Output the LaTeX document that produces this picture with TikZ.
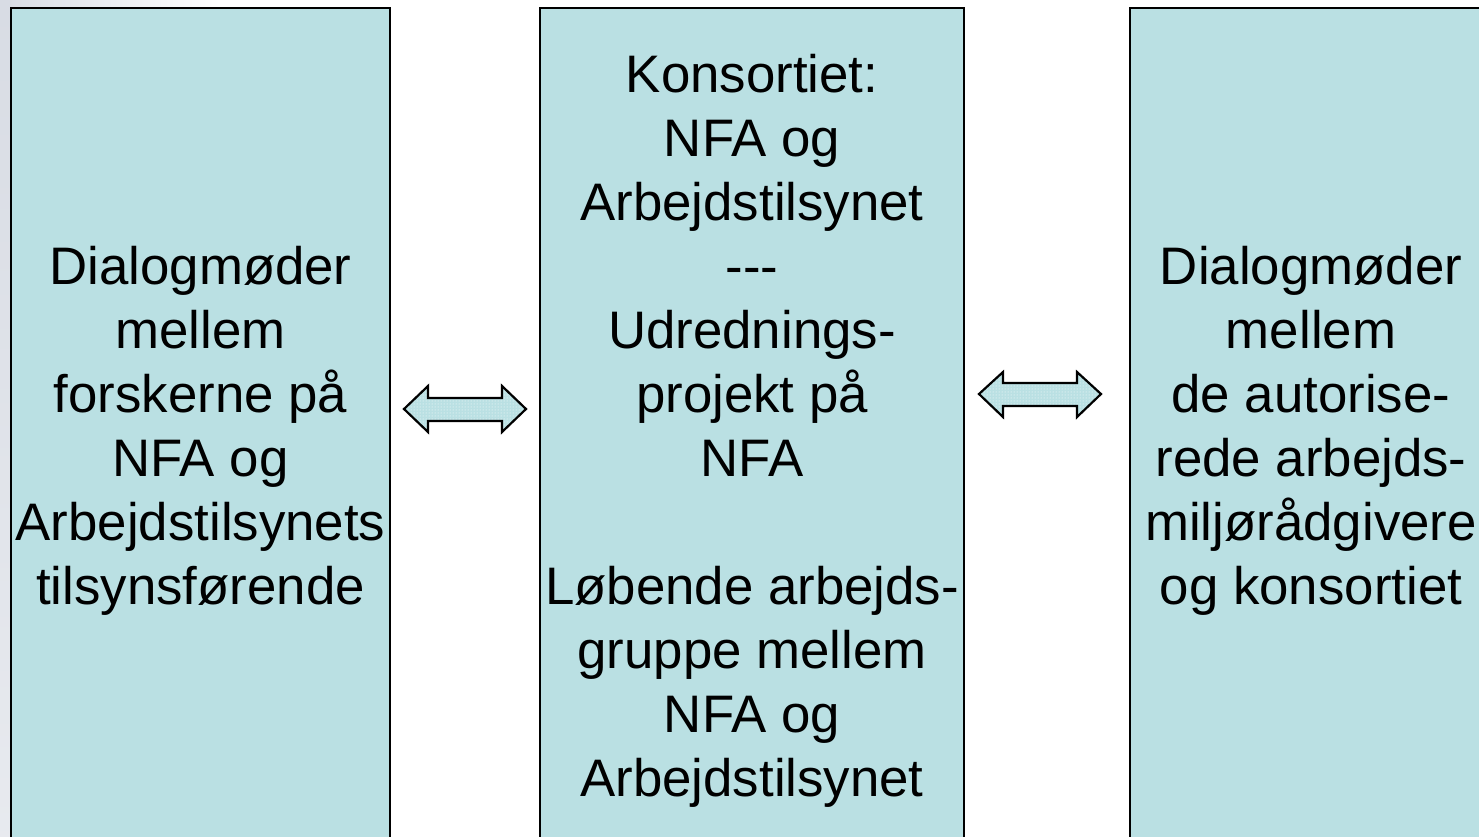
\documentclass[tikz,border=0pt]{standalone}
\usepackage{fontspec}
\setmainfont{Liberation Sans}
\usetikzlibrary{patterns,calc}
\definecolor{boxfill}{HTML}{BAE0E3}
\definecolor{edgegray}{HTML}{D8DCE4}
\tikzset{
  x=1pt,y=-1pt,
  panel/.style={draw=black, line width=2pt, fill=boxfill, inner sep=0pt,
    align=center, minimum height=846pt,
    font=\fontsize{52.8}{64}\selectfont},
  blockarrow/.style={draw=black, line width=2.2pt, line join=miter,
    preaction={fill=boxfill}, pattern=dots, pattern color=white},
}
\begin{document}
\begin{tikzpicture}
\useasboundingbox (0,0) rectangle (1479,836);
\clip (0,0) rectangle (1479,836);
\fill[white] (0,0) rectangle (1479,836);
\shade[left color=edgegray, right color=white] (0,0) rectangle (220,8);
\shade[top color=edgegray, bottom color=edgegray!60!white] (0,0) rectangle (11,836);

\node[panel, minimum width=379pt] (L) at (200.5,431)
  {Dialogmøder\\mellem\\forskerne på\\NFA og\\Arbejdstilsynets\\tilsynsførende};
\node[panel, minimum width=424pt] (M) at (752,431)
  {Konsortiet:\\NFA og\\Arbejdstilsynet\\-{}-{}-\\Udrednings-\\projekt på\\NFA\\[64pt]Løbende arbejds-\\gruppe mellem\\NFA og\\Arbejdstilsynet};
\node[panel, minimum width=362pt] (R) at (1311,431)
  {Dialogmøder\\mellem\\de autorise-\\rede arbejds-\\miljørådgivere\\og konsortiet};

% double block arrows between the panels
\draw[blockarrow] (404,409) -- (428,386) -- (428,398) -- (502,398) -- (502,386)
  -- (526,409) -- (502,432) -- (502,421) -- (428,421) -- (428,432) -- cycle;
\draw[blockarrow] (979,394) -- (1003,372) -- (1003,383) -- (1077,383) -- (1077,372)
  -- (1101,394) -- (1077,417) -- (1077,406) -- (1003,406) -- (1003,417) -- cycle;
\end{tikzpicture}
\end{document}
